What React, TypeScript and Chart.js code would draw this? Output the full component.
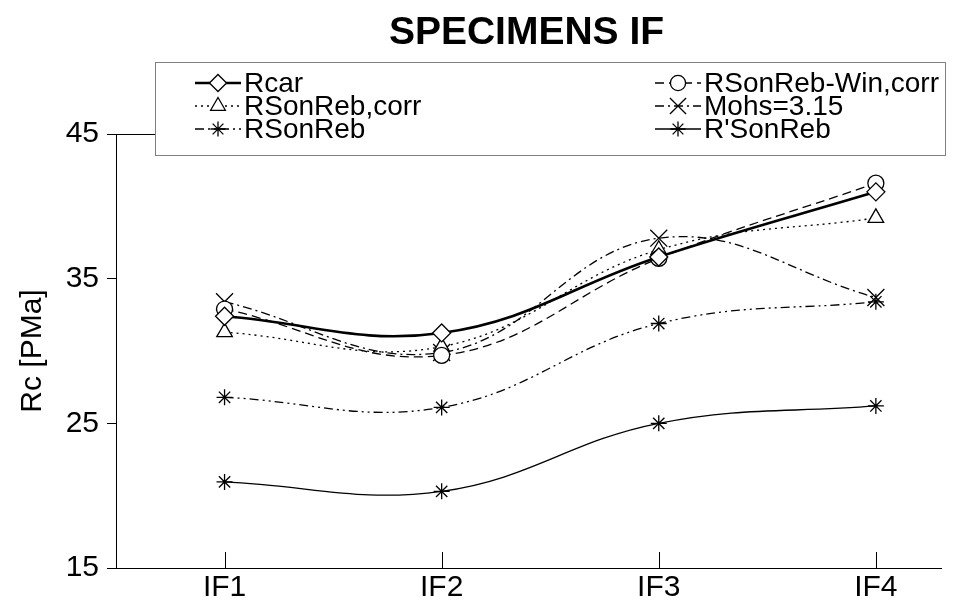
import React, { useEffect, useRef } from 'react';
import { Chart, registerables } from 'chart.js';
Chart.register(...registerables);

const categories = ['IF1', 'IF2', 'IF3', 'IF4'];
const yTicks = [15, 25, 35, 45];
const rcar = [32.4, 31.25, 36.5, 41.0];
const winCorr = [32.9, 29.7, 36.4, 41.6];
const sonRebCorr = [31.3, 30.3, 37.0, 39.2];
const mohs = [33.4, 29.9, 37.8, 33.7];
const sonReb = [26.8, 26.1, 31.9, 33.4];
const sonRebPrime = [20.95, 20.3, 25.0, 26.2];

const FONT = "'Liberation Sans', Arial, sans-serif";

type Series = {
  label: string;
  data: number[];
  width: number;
  dash: number[];
  style: string;
  radius: number;
};

const series: Series[] = [
  { label: 'Rcar', data: rcar, width: 2.6, dash: [], style: 'rectRot', radius: 9 },
  { label: 'RSonReb-Win,corr', data: winCorr, width: 1.3, dash: [9, 5], style: 'circle', radius: 8 },
  { label: 'RSonReb,corr', data: sonRebCorr, width: 1.3, dash: [2, 4], style: 'triangle', radius: 9 },
  { label: 'Mohs=3.15', data: mohs, width: 1.3, dash: [9, 4, 2, 4], style: 'crossRot', radius: 12 },
  { label: 'RSonReb', data: sonReb, width: 1.3, dash: [9, 4, 2, 4, 2, 4], style: 'star', radius: 8 },
  { label: "R'SonReb", data: sonRebPrime, width: 1.3, dash: [], style: 'star', radius: 8 },
];

function drawMarker(ctx: CanvasRenderingContext2D, style: string, x: number, y: number, r: number) {
  ctx.beginPath();
  const Q = Math.PI / 4;
  if (style === 'circle') {
    ctx.arc(x, y, r, 0, Math.PI * 2);
    ctx.closePath();
    ctx.fill();
  } else if (style === 'rectRot') {
    ctx.moveTo(x - r, y);
    ctx.lineTo(x, y - r);
    ctx.lineTo(x + r, y);
    ctx.lineTo(x, y + r);
    ctx.closePath();
    ctx.fill();
  } else if (style === 'triangle') {
    let rad = 0;
    ctx.moveTo(x + Math.sin(rad) * r, y - Math.cos(rad) * r);
    rad += (2 * Math.PI) / 3;
    ctx.lineTo(x + Math.sin(rad) * r, y - Math.cos(rad) * r);
    rad += (2 * Math.PI) / 3;
    ctx.lineTo(x + Math.sin(rad) * r, y - Math.cos(rad) * r);
    ctx.closePath();
    ctx.fill();
  } else if (style === 'crossRot') {
    const o = Math.cos(Q) * r;
    ctx.moveTo(x - o, y - o);
    ctx.lineTo(x + o, y + o);
    ctx.moveTo(x + o, y - o);
    ctx.lineTo(x - o, y + o);
  } else if (style === 'star') {
    ctx.moveTo(x - r, y);
    ctx.lineTo(x + r, y);
    ctx.moveTo(x, y - r);
    ctx.lineTo(x, y + r);
    const o = Math.cos(Q) * r;
    ctx.moveTo(x - o, y - o);
    ctx.lineTo(x + o, y + o);
    ctx.moveTo(x + o, y - o);
    ctx.lineTo(x - o, y + o);
  }
  ctx.stroke();
}

const decorPlugin = {
  id: 'decor',
  afterDraw(chart: any) {
    const ctx: CanvasRenderingContext2D = chart.ctx;
    const area = chart.chartArea;
    const xs = chart.scales.x;
    ctx.save();
    // inward ticks on x axis
    ctx.strokeStyle = '#000';
    ctx.lineWidth = 1;
    ctx.setLineDash([]);
    categories.forEach((_, i) => {
      const px = Math.round(xs.getPixelForValue(i + 1)) + 0.5;
      ctx.beginPath();
      ctx.moveTo(px, area.bottom);
      ctx.lineTo(px, area.bottom - 16);
      ctx.stroke();
    });
    // title
    ctx.fillStyle = '#000';
    ctx.font = `bold 39px ${FONT}`;
    ctx.textAlign = 'center';
    ctx.textBaseline = 'middle';
    ctx.fillText('SPECIMENS IF', (area.left + area.right) / 2 - 2, 25);
    // legend
    const bx = 147, by = 54, bw = 790, bh = 93;
    ctx.fillStyle = '#fff';
    ctx.fillRect(bx, by, bw, bh);
    ctx.strokeStyle = '#808080';
    ctx.lineWidth = 1;
    ctx.strokeRect(bx + 0.5, by + 0.5, bw, bh);
    const rows = [75, 98, 121];
    const cols = [187, 647];
    series.forEach((s, i) => {
      const cx = cols[i % 2];
      const cy = rows[Math.floor(i / 2)];
      ctx.strokeStyle = '#000';
      ctx.lineWidth = s.width;
      ctx.setLineDash(s.dash);
      ctx.beginPath();
      ctx.moveTo(cx, cy);
      ctx.lineTo(cx + 46, cy);
      ctx.stroke();
      ctx.setLineDash([]);
      ctx.lineWidth = 1.3;
      ctx.fillStyle = '#fff';
      drawMarker(ctx, s.style, cx + 23, cy, s.radius * 0.95);
      ctx.fillStyle = '#000';
      ctx.font = `28px ${FONT}`;
      ctx.textAlign = 'left';
      ctx.textBaseline = 'middle';
      ctx.fillText(s.label, cx + 49, cy + 1);
    });
    ctx.restore();
  },
};

export default function App() {
  const ref = useRef<HTMLCanvasElement>(null);
  useEffect(() => {
    const chart = new Chart(ref.current as HTMLCanvasElement, {
      type: 'line',
      data: {
        datasets: series.map((s) => ({
          label: s.label,
          data: s.data.map((v, i) => ({ x: i + 1, y: v })),
          borderColor: '#000',
          borderWidth: s.width,
          borderDash: s.dash,
          tension: 0.4,
          fill: false,
          pointStyle: s.style as any,
          pointRadius: s.radius,
          pointBorderWidth: 1.3,
          pointBorderColor: '#000',
          pointBackgroundColor: '#fff',
        })),
      },
      options: {
        animation: false,
        responsive: false,
        layout: { padding: { top: 126, right: 25, left: 7, bottom: 0 } },
        plugins: { legend: { display: false }, tooltip: { enabled: false }, title: { display: false } },
        scales: {
          x: {
            type: 'linear',
            min: 0.5,
            max: 4.3,
            afterBuildTicks: (s: any) => {
              s.ticks = categories.map((_, i) => ({ value: i + 1 }));
            },
            afterFit: (s: any) => {
              s.height = 29;
            },
            ticks: {
              callback: (v: any) => categories[Number(v) - 1] ?? '',
              color: '#000',
              font: { family: FONT, size: 30 },
              padding: 2,
              maxRotation: 0,
              autoSkip: false,
            },
            grid: { display: true, drawOnChartArea: false, drawTicks: false },
            border: { color: '#000', width: 1 },
          },
          y: {
            type: 'linear',
            min: 15,
            max: 45,
            afterBuildTicks: (s: any) => {
              s.ticks = yTicks.map((v) => ({ value: v }));
            },
            afterFit: (s: any) => {
              s.width = 101;
            },
            ticks: {
              color: '#000',
              font: { family: FONT, size: 30 },
              padding: 8,
            },
            grid: {
              color: (c: any) => (c.tick && c.tick.value === 45 ? '#000' : 'rgba(0,0,0,0)'),
              tickColor: '#000',
              tickLength: 9,
              drawOnChartArea: true,
            },
            border: { color: '#000', width: 1 },
            title: {
              display: true,
              text: 'Rc [PMa]',
              color: '#000',
              font: { family: FONT, size: 30 },
              padding: 0,
            },
          },
        },
      },
      plugins: [decorPlugin],
    } as any);
    return () => chart.destroy();
  }, []);
  return (
    <div style={{ width: 958, height: 589 }}>
      <canvas ref={ref} width={958} height={589} style={{ display: 'block' }} />
    </div>
  );
}
